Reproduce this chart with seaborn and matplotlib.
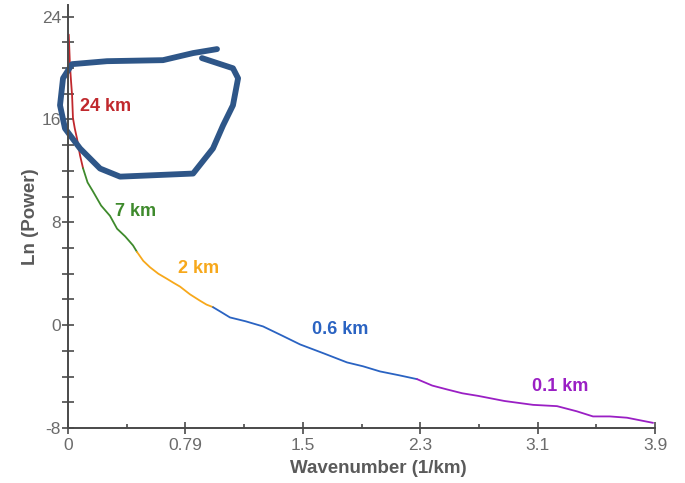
import numpy as np
import pandas as pd
import matplotlib
matplotlib.use("Agg")
import matplotlib.pyplot as plt
import seaborn as sns

# --- data ---
SCALES = ["24 km", "7 km", "2 km", "0.6 km", "0.1 km"]
COLORS = ["#c0282d", "#3e8a2c", "#f7a81b", "#2a63c2", "#9a1fc4"]

red_x = [0.005, 0.013, 0.020, 0.027, 0.033, 0.045, 0.060, 0.080, 0.100]
red_y = [22.6, 20.2, 19.0, 17.9, 16.1, 15.3, 14.5, 13.2, 12.2]

green_x = [0.100, 0.130, 0.166, 0.220, 0.279, 0.326, 0.380, 0.432, 0.458]
green_y = [12.2, 11.1, 10.4, 9.3, 8.5, 7.5, 6.9, 6.2, 5.7]

orange_x = [0.458, 0.500, 0.545, 0.600, 0.658, 0.700, 0.744, 0.810, 0.877, 0.920, 0.963]
orange_y = [5.7, 5.0, 4.5, 4.0, 3.6, 3.3, 3.0, 2.4, 1.9, 1.6, 1.4]

blue_x = [0.963, 1.020, 1.076, 1.180, 1.296, 1.420, 1.542, 1.700, 1.854, 1.960, 2.073, 2.200, 2.319]
blue_y = [1.4, 1.0, 0.6, 0.3, -0.1, -0.8, -1.5, -2.2, -2.9, -3.2, -3.6, -3.9, -4.2]

purple_x = [2.319, 2.420, 2.518, 2.620, 2.724, 2.900, 3.090, 3.249, 3.380, 3.488, 3.600, 3.714, 3.887]
purple_y = [-4.2, -4.7, -5.0, -5.3, -5.5, -5.9, -6.2, -6.3, -6.7, -7.1, -7.1, -7.2, -7.6]

# label anchors (left edge, vertical centre) in data units
label_x = [0.08, 0.31, 0.73, 1.62, 3.08]
label_y = [17.0, 8.85, 4.4, -0.3, -4.8]

x_ticks = [0, 0.78, 1.56, 2.34, 3.12, 3.9]
x_tick_labels = ["0", "0.79", "1.5", "2.3", "3.1", "3.9"]
y_ticks = [-8, 0, 8, 16, 24]

# hand-drawn loop over the 24 km part
loop_x = [0.990, 0.831, 0.631, 0.259, 0.027, -0.033, -0.053, -0.020, 0.080, 0.213,
          0.346, 0.831, 0.963, 1.030, 1.096, 1.130, 1.096, 0.890]
loop_y = [21.47, 21.16, 20.61, 20.53, 20.30, 19.20, 17.10, 15.30, 13.74, 12.18,
          11.55, 11.79, 13.74, 15.53, 17.10, 19.20, 19.98, 20.77]

segs = [(red_x, red_y), (green_x, green_y), (orange_x, orange_y),
        (blue_x, blue_y), (purple_x, purple_y)]
rows = []
for name, (xs, ys) in zip(SCALES, segs):
    for i, (a, b) in enumerate(zip(xs, ys)):
        rows.append({"scale": name, "order": i, "k": a, "lnp": b})
df = pd.DataFrame(rows)

sns.set_style("white")
plt.rcParams["font.family"] = ["Liberation Sans", "DejaVu Sans"]
plt.rcParams["axes.unicode_minus"] = False

fig = plt.figure(figsize=(6.85, 4.83), dpi=100)
ax = fig.add_axes([68 / 685, 55 / 483, 587 / 685, (428 - 5) / 483])

sns.lineplot(data=df, x="k", y="lnp", hue="scale", hue_order=SCALES,
             palette=COLORS, sort=False, estimator=None, units="scale",
             linewidth=1.3, legend=False, ax=ax)

for name, c, lx, ly in zip(SCALES, COLORS, label_x, label_y):
    ax.text(lx, ly, name, color=c, fontsize=13, fontweight="bold",
            ha="left", va="center")

ax.plot(loop_x, loop_y, color="#2e5688", linewidth=4.2,
        solid_capstyle="round", solid_joinstyle="round", clip_on=False)

ax.set_xlim(0, 3.9)
ax.set_ylim(-8, 24.9)
ax.set_xticks(x_ticks)
ax.set_xticklabels(x_tick_labels)
ax.set_xticks([0.39, 1.17, 1.95, 2.73, 3.51], minor=True)
ax.set_yticks(y_ticks)
ax.set_yticks([-6, -4, -2, 2, 4, 6, 10, 12, 14, 18, 20, 22], minor=True)

for side in ["top", "right"]:
    ax.spines[side].set_visible(False)
for side in ["left", "bottom"]:
    ax.spines[side].set_color("#4a4a4a")
    ax.spines[side].set_linewidth(1.4)

ax.tick_params(bottom=True, left=True, which="both")
ax.tick_params(axis="both", which="major", direction="inout", length=8,
               width=1.2, color="#4a4a4a", labelcolor="#6b6b6b", labelsize=12.5, pad=1)
ax.tick_params(axis="x", which="major", pad=3)
ax.tick_params(axis="y", which="minor", direction="inout", length=8,
               width=1.2, color="#4a4a4a")
ax.tick_params(axis="x", which="minor", direction="in", length=3,
               width=1.2, color="#4a4a4a")

ax.set_xlabel("Wavenumber (1/km)", fontsize=13.5, fontweight="bold",
              color="#5a5a5a", labelpad=5)
ax.xaxis.set_label_coords(0.528, -0.075)
ax.set_ylabel("Ln (Power)", fontsize=13.5, fontweight="bold",
              color="#5a5a5a", labelpad=2)

fig.savefig("out.png", dpi=100, facecolor="white")
